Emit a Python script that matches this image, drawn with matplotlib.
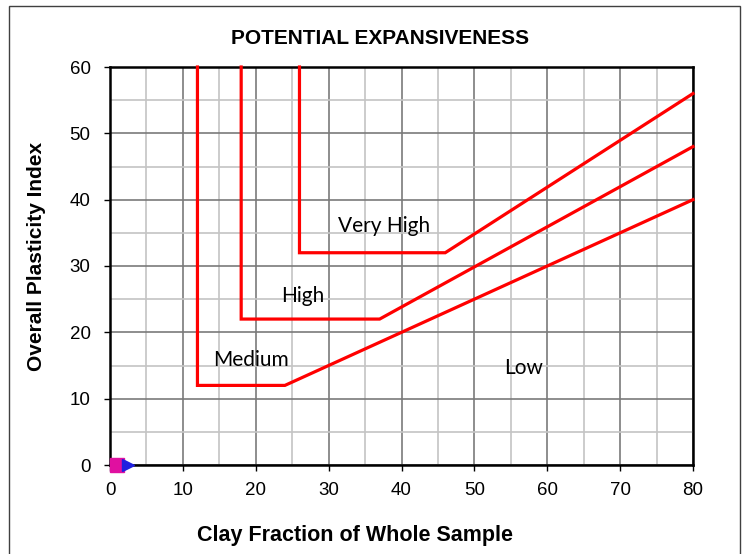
import matplotlib.pyplot as plt
from matplotlib.patches import Rectangle

# boundary curves between expansiveness classes (clay fraction, plasticity index)
low_med_x = [12, 12, 24, 80]
low_med_y = [60, 12, 12, 40]
med_high_x = [18, 18, 37, 80]
med_high_y = [60, 22, 22, 48]
high_vh_x = [26, 26, 46, 80]
high_vh_y = [60, 32, 32, 56]

zone_names = ["Very High", "High", "Medium", "Low"]
zone_x = [37.6, 26.4, 19.3, 56.7]
zone_y = [36.0, 25.5, 15.8, 14.6]

# sample points
sample_x = [1, 2.5]
sample_y = [0, 0]

fig = plt.figure(figsize=(7.44, 5.54), dpi=100)
ax = fig.add_axes([110 / 744, 89 / 554, 583 / 744, 398 / 554])

fig.patches.append(Rectangle((9 / 744, -0.01), 731 / 744, 1 - 6 / 554 + 0.01,
                             transform=fig.transFigure, fill=False,
                             edgecolor="#404040", lw=1))

ax.set_xlim(0, 80)
ax.set_ylim(0, 60)
ax.set_xticks(range(0, 81, 10))
ax.set_yticks(range(0, 61, 10))
ax.set_xticks(range(5, 80, 10), minor=True)
ax.set_yticks(range(5, 60, 10), minor=True)
ax.grid(which="major", color="#7a7a7a", lw=1.2)
ax.grid(which="minor", color="#c4c4c4", lw=1.2)
ax.set_axisbelow(True)
ax.tick_params(which="minor", length=0)
ax.tick_params(which="major", length=4, width=1, direction="out", labelsize=13.5)
ax.tick_params(axis="x", pad=8)
ax.tick_params(axis="y", pad=10)
for lab in ax.get_xticklabels() + ax.get_yticklabels():
    lab.set_family("Liberation Sans")
for sp in ax.spines.values():
    sp.set_linewidth(1.8)
    sp.set_color("black")

for xs, ys in [(low_med_x, low_med_y), (med_high_x, med_high_y), (high_vh_x, high_vh_y)]:
    ax.plot(xs, ys, color="red", lw=2.3, solid_joinstyle="miter", clip_on=False, zorder=3)

for name, x, y in zip(zone_names, zone_x, zone_y):
    ax.text(x, y, name, ha="center", va="center", fontsize=15, family="Lato")

ax.plot(sample_x[0], sample_y[0], marker="s", ms=9.5, color="#e010a0", clip_on=False, zorder=4)
ax.plot(sample_x[1], sample_y[1], marker=">", ms=8, color="#2020e0", clip_on=False, zorder=5)

fig.text(380 / 744, 1 - 38 / 554, "POTENTIAL EXPANSIVENESS", ha="center", va="center",
         fontsize=15, fontweight="bold", family="Liberation Sans")
fig.text(355 / 744, 1 - 536 / 554, "Clay Fraction of Whole Sample", ha="center", va="center",
         fontsize=15.5, fontweight="bold", family="Liberation Sans")
fig.text(37 / 744, 1 - 256 / 554, "Overall Plasticity Index", ha="center", va="center",
         rotation=90, fontsize=15, fontweight="bold", family="Liberation Sans")

fig.savefig("out.png", dpi=100)
